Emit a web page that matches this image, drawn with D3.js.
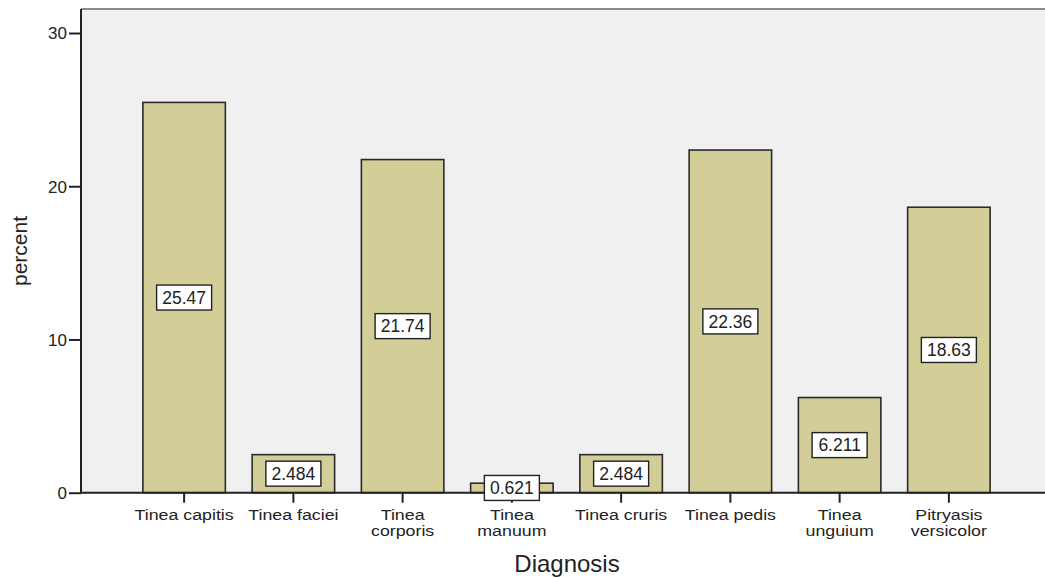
<!DOCTYPE html>
<html>
<head>
<meta charset="utf-8">
<script src="https://cdn.jsdelivr.net/npm/d3@7"></script>
<style>
  body { margin: 0; background: #fff; }
  text { font-family: "Liberation Sans", Arial, sans-serif; fill: #222; }
</style>
</head>
<body>
<svg id="chart" width="1045" height="577"></svg>
<script>
// chart data
var categories = ["Tinea capitis", "Tinea faciei", "Tinea corporis", "Tinea manuum",
  "Tinea cruris", "Tinea pedis", "Tinea unguium", "Pitryasis versicolor"];
var tickLines = [["Tinea capitis"], ["Tinea faciei"], ["Tinea", "corporis"], ["Tinea", "manuum"],
  ["Tinea cruris"], ["Tinea pedis"], ["Tinea", "unguium"], ["Pitryasis", "versicolor"]];
var percents = [25.47, 2.484, 21.74, 0.621, 2.484, 22.36, 6.211, 18.63];
var labels = ["25.47", "2.484", "21.74", "0.621", "2.484", "22.36", "6.211", "18.63"];
var yTicks = [0, 10, 20, 30];

var svg = d3.select("#chart");
var plotLeft = 81, plotRight = 1045, plotTop = 9, plotBottom = 492.7;

var x = d3.scaleBand()
  .domain(categories)
  .range([129.5, 1003.5])
  .paddingInner(0.245)
  .paddingOuter(0.1225);

var y = d3.scaleLinear()
  .domain([0, 30])
  .range([plotBottom, 33]);

// plot background
svg.append("rect")
  .attr("x", plotLeft).attr("y", plotTop)
  .attr("width", plotRight - plotLeft).attr("height", plotBottom - plotTop)
  .attr("fill", "#f0f0f0");

svg.append("line")
  .attr("x1", plotLeft).attr("x2", plotRight)
  .attr("y1", plotTop).attr("y2", plotTop)
  .attr("stroke", "#8a8a8a").attr("stroke-width", 2);

// bars
var bars = svg.append("g");
bars.selectAll("rect")
  .data(percents)
  .enter().append("rect")
  .attr("x", (d, i) => x(categories[i]))
  .attr("y", d => y(d))
  .attr("width", x.bandwidth())
  .attr("height", d => plotBottom - y(d))
  .attr("fill", "#d3ce97")
  .attr("stroke", "#2a2a2a")
  .attr("stroke-width", 1.6);

// y axis
var yAxis = d3.axisLeft(y).tickValues(yTicks).tickSize(12).tickPadding(2).tickFormat(d3.format("d"));
var yG = svg.append("g").attr("transform", "translate(" + plotLeft + ",0)");
yAxis(yG);
yG.select(".domain").attr("d", "M0," + plotTop + "V" + plotBottom).attr("stroke", "#222").attr("stroke-width", 2);
yG.selectAll(".tick line").attr("stroke", "#222").attr("stroke-width", 2);
yG.selectAll(".tick text").style("font-size", "17px").attr("fill", "#222").attr("dy", "0.34em");

// x axis
var xAxis = d3.axisBottom(x).tickSize(10).tickFormat("");
var xG = svg.append("g").attr("transform", "translate(0," + plotBottom + ")");
xAxis(xG);
xG.select(".domain").attr("d", "M" + plotLeft + ",0H" + plotRight).attr("stroke", "#222").attr("stroke-width", 2);
xG.selectAll(".tick line").attr("stroke", "#222").attr("stroke-width", 2);

// value labels
var lab = svg.append("g").selectAll("g")
  .data(percents)
  .enter().append("g")
  .attr("transform", (d, i) => "translate(" + (x(categories[i]) + x.bandwidth() / 2) + "," + y(d / 2) + ")");

lab.append("rect")
  .attr("x", -27.5).attr("y", -12.5)
  .attr("width", 55).attr("height", 25)
  .attr("fill", "#fff")
  .attr("stroke", "#222").attr("stroke-width", 1.4);

lab.append("text")
  .attr("text-anchor", "middle")
  .attr("dy", "0.36em")
  .style("font-size", "17.5px")
  .text((d, i) => labels[i]);

// category labels, wide like the original renderer
var tl = svg.append("g").selectAll("g")
  .data(tickLines)
  .enter().append("g")
  .attr("transform", (d, i) => "translate(" + (x(categories[i]) + x.bandwidth() / 2) + ",520) scale(1.27,1)");
tl.selectAll("text")
  .data(d => d)
  .enter().append("text")
  .attr("text-anchor", "middle")
  .attr("x", 0)
  .attr("y", (d, i) => i * 16)
  .style("font-size", "14px")
  .text(d => d);

// axis titles
svg.append("text")
  .attr("x", 567).attr("y", 572)
  .attr("text-anchor", "middle")
  .style("font-size", "24px")
  .text("Diagnosis");

svg.append("text")
  .attr("transform", "translate(27,251) rotate(-90)")
  .attr("text-anchor", "middle")
  .style("font-size", "21px")
  .text("percent");
</script>
</body>
</html>
